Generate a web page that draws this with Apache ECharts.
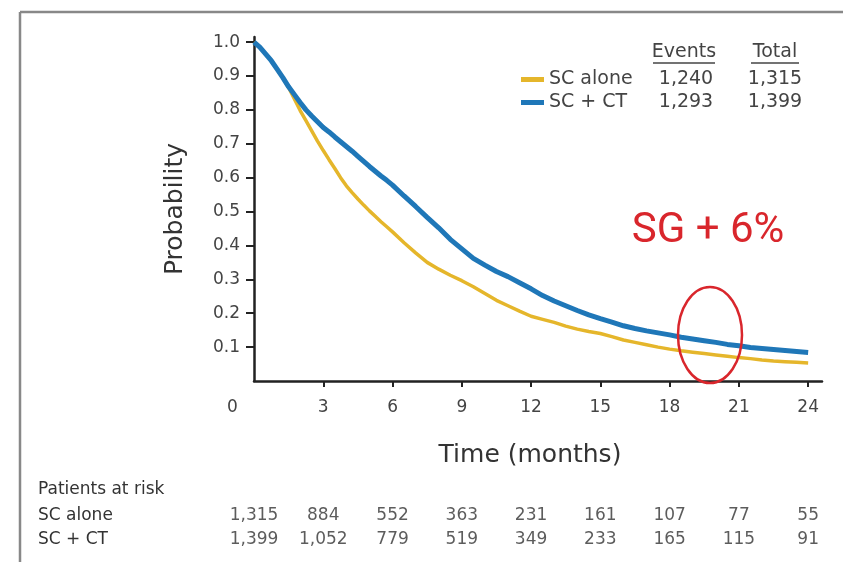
<!DOCTYPE html>
<html><head><meta charset="utf-8">
<script src="https://cdn.jsdelivr.net/npm/echarts@6/dist/echarts.min.js"></script>
<style>html,body{margin:0;padding:0;background:#fff}#c{width:843px;height:562px}</style>
</head><body><div id="c"></div>
<script>
const times = [0,0.25,0.5,0.75,1,1.25,1.5,1.75,2,2.25,2.5,2.75,3,3.25,3.5,3.75,4,4.25,4.5,4.75,5,5.25,5.5,5.75,6,6.5,7,7.5,8,8.5,9,9.5,10,10.5,11,11.5,12,12.5,13,13.5,14,14.5,15,15.5,16,16.5,17,17.5,18,18.5,19,19.5,20,20.5,21,21.5,22,22.5,23,23.5,24];
const scAloneSurv = [1.0,0.985,0.965,0.945,0.92,0.895,0.866,0.832,0.798,0.768,0.738,0.708,0.68,0.653,0.627,0.6,0.576,0.556,0.537,0.519,0.502,0.486,0.47,0.455,0.44,0.408,0.378,0.35,0.33,0.312,0.296,0.278,0.258,0.238,0.222,0.206,0.191,0.182,0.173,0.162,0.153,0.146,0.14,0.131,0.121,0.114,0.107,0.1,0.094,0.089,0.085,0.081,0.077,0.073,0.069,0.066,0.062,0.059,0.057,0.055,0.053];
const scCtSurv = [1.0,0.985,0.965,0.945,0.92,0.895,0.868,0.845,0.822,0.8,0.782,0.765,0.748,0.735,0.72,0.706,0.692,0.678,0.663,0.648,0.633,0.619,0.605,0.592,0.578,0.546,0.515,0.483,0.452,0.418,0.39,0.362,0.342,0.323,0.308,0.29,0.272,0.252,0.236,0.222,0.208,0.195,0.184,0.174,0.163,0.155,0.148,0.142,0.136,0.129,0.124,0.119,0.114,0.108,0.104,0.099,0.096,0.093,0.09,0.087,0.084];
const seriesNames = ['SC alone', 'SC + CT'];
const seriesColors = ['#E5B62B', '#1F77B8'];
const eventCounts = ['1,240', '1,293'];
const totalCounts = ['1,315', '1,399'];
const xTickValues = [3,6,9,12,15,18,21,24];
const xLabelValues = [0,3,6,9,12,15,18,21,24];
const yTickValues = [0.1,0.2,0.3,0.4,0.5,0.6,0.7,0.8,0.9,1.0];
const riskTimes = [0,3,6,9,12,15,18,21,24];
const riskAlone = [1315,884,552,363,231,161,107,77,55];
const riskCt = [1399,1052,779,519,349,233,165,115,91];
const riskRows = ['SC alone', 'SC + CT'];

const FONT = '"DejaVu Sans", sans-serif';
const chart = echarts.init(document.getElementById('c'), null, {renderer: 'canvas'});

const riskData = [];
riskTimes.forEach((t, i) => {
  riskData.push([t, riskRows[0], riskAlone[i]]);
  riskData.push([t, riskRows[1], riskCt[i]]);
});

chart.setOption({
  animation: false,
  backgroundColor: '#fff',
  grid: [
    {left: 254, right: 21, top: 37, bottom: 181},
    {left: 254, right: 21, top: 504, height: 48}
  ],
  xAxis: [{
    type: 'value', min: 0, max: 24.6, gridIndex: 0,
    name: 'Time (months)', nameLocation: 'middle', nameGap: 62,
    nameTextStyle: {fontFamily: FONT, fontSize: 25, color: '#333', padding: [0, 16, 0, 0]},
    axisLine: {show: true, lineStyle: {color: '#222', width: 2.5}},
    axisTick: {show: true, customValues: xTickValues, length: 6, lineStyle: {color: '#222', width: 2}},
    axisLabel: {
      customValues: xLabelValues, margin: 18, fontFamily: FONT, fontSize: 17, color: '#444',
      formatter: v => v === 0 ? '{z|0}' : String(v),
      rich: {z: {width: 54, align: 'left', fontFamily: FONT, fontSize: 17, color: '#444'}}
    },
    splitLine: {show: false}
  }, {
    type: 'value', min: 0, max: 24.6, gridIndex: 1, show: false
  }],
  yAxis: [{
    type: 'value', min: 0, max: 1.015, gridIndex: 0,
    name: 'Probability', nameLocation: 'middle', nameGap: 66,
    nameTextStyle: {fontFamily: FONT, fontSize: 25, color: '#333'},
    axisLine: {show: true, lineStyle: {color: '#222', width: 2.5}},
    axisTick: {show: true, customValues: yTickValues, length: 8, lineStyle: {color: '#222', width: 2}},
    axisLabel: {customValues: yTickValues, margin: 14, fontFamily: FONT, fontSize: 17, color: '#444',
      formatter: v => v.toFixed(1)},
    splitLine: {show: false}
  }, {
    type: 'category', gridIndex: 1, data: riskRows, inverse: true,
    axisLine: {show: false}, axisTick: {show: false},
    axisLabel: {show: true, align: 'left', margin: 216, fontFamily: FONT, fontSize: 17, color: '#333'}
  }],
  legend: {
    data: seriesNames, orient: 'vertical', left: 516, top: 65,
    icon: 'rect', itemWidth: 23, itemHeight: 5, itemGap: 4,
    formatter: name => {
      const i = seriesNames.indexOf(name);
      return `{n|${name}}{e|${eventCounts[i]}}{t|${totalCounts[i]}}`;
    },
    textStyle: {
      fontFamily: FONT, fontSize: 19, color: '#444',
      rich: {
        n: {width: 105, lineHeight: 20, fontFamily: FONT, fontSize: 19, color: '#444'},
        e: {width: 64, lineHeight: 20, align: 'center', fontFamily: FONT, fontSize: 19, color: '#444'},
        t: {width: 114, lineHeight: 20, align: 'center', fontFamily: FONT, fontSize: 19, color: '#444'}
      }
    }
  },
  series: [{
    name: seriesNames[0], type: 'line', xAxisIndex: 0, yAxisIndex: 0,
    data: times.map((t, i) => [t, scAloneSurv[i]]),
    showSymbol: false, symbol: 'none', color: seriesColors[0],
    lineStyle: {color: seriesColors[0], width: 3.5}, z: 2
  }, {
    name: seriesNames[1], type: 'line', xAxisIndex: 0, yAxisIndex: 0,
    data: times.map((t, i) => [t, scCtSurv[i]]),
    showSymbol: false, symbol: 'none', color: seriesColors[1],
    lineStyle: {color: seriesColors[1], width: 5}, z: 3
  }, {
    name: 'risk', type: 'scatter', xAxisIndex: 1, yAxisIndex: 1,
    data: riskData, symbolSize: 1, itemStyle: {color: 'rgba(0,0,0,0)'},
    label: {show: true, position: 'inside', fontFamily: FONT, fontSize: 17, color: '#333',
      formatter: p => p.value[2].toLocaleString('en-US')},
    silent: true
  }],
  graphic: [
    {type: 'line', shape: {x1: 20, y1: 12, x2: 20, y2: 562}, style: {stroke: '#888', lineWidth: 2.5}},
    {type: 'line', shape: {x1: 20, y1: 12, x2: 843, y2: 12}, style: {stroke: '#888', lineWidth: 2.5}},
    {type: 'text', x: 684, y: 52, style: {text: 'Events', align: 'center', verticalAlign: 'middle', fontFamily: FONT, fontSize: 19, fill: '#444'}},
    {type: 'line', shape: {x1: 653, y1: 63, x2: 715, y2: 63}, style: {stroke: '#444', lineWidth: 1.5}},
    {type: 'text', x: 775, y: 52, style: {text: 'Total', align: 'center', verticalAlign: 'middle', fontFamily: FONT, fontSize: 19, fill: '#444'}},
    {type: 'line', shape: {x1: 751, y1: 63, x2: 799, y2: 63}, style: {stroke: '#444', lineWidth: 1.5}},
    {type: 'text', x: 708, y: 231, style: {text: 'SG + 6%', align: 'center', verticalAlign: 'middle', fontFamily: 'Roboto, sans-serif', fontSize: 42, fill: '#D9262C'}},
    {type: 'ellipse', shape: {cx: 710, cy: 335, rx: 32, ry: 48}, style: {fill: 'none', stroke: '#D9262C', lineWidth: 2.5}, z: 10},
    {type: 'text', x: 38, y: 490, style: {text: 'Patients at risk', verticalAlign: 'middle', fontFamily: FONT, fontSize: 17, fill: '#333'}}
  ]
});
</script>
</body></html>
